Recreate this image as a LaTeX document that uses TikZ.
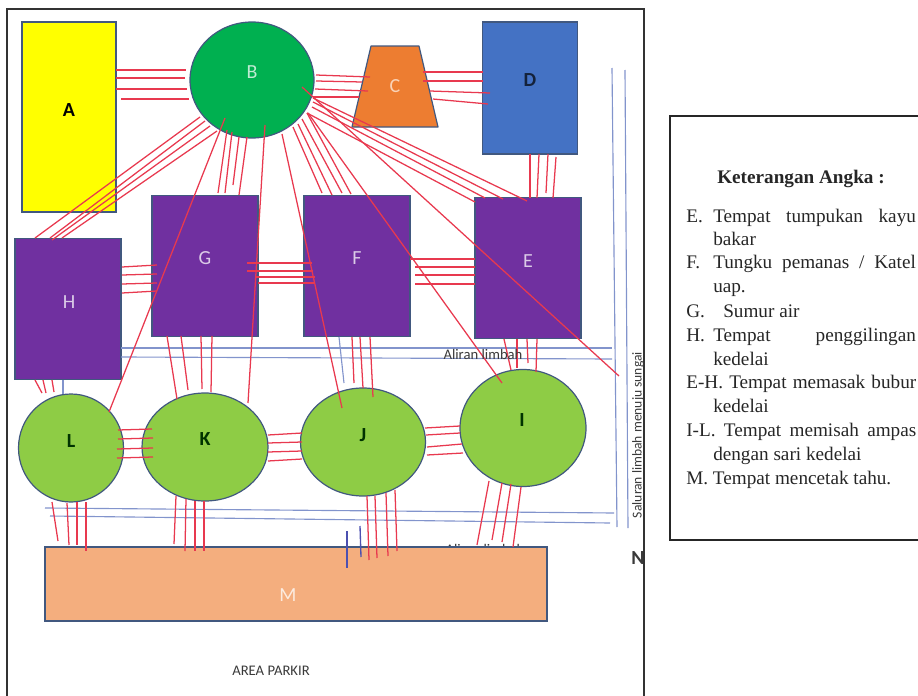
\documentclass[tikz,border=0pt]{standalone}
\usepackage{fontspec}
\setmainfont{Liberation Serif}
\newfontfamily\carlito{Carlito}
\usetikzlibrary{arrows.meta,positioning,shapes.geometric,calc}

\definecolor{outlinec}{HTML}{41587F}
\definecolor{pipec}{HTML}{E8394F}
\definecolor{drainc}{HTML}{8294CC}
\definecolor{stubc}{HTML}{4C50B0}
\definecolor{yellowc}{HTML}{FFFF00}
\definecolor{greenc}{HTML}{00B050}
\definecolor{orangec}{HTML}{ED7D31}
\definecolor{bluec}{HTML}{4472C4}
\definecolor{purplec}{HTML}{7030A0}
\definecolor{limec}{HTML}{8ECC45}
\definecolor{tanc}{HTML}{F4AE7E}
\definecolor{inkc}{HTML}{3A3A3A}

\newcommand{\pipes}[3]{\foreach \ax/\ay/\bx/\by in {#3}
  \draw[pipe] ($(#1)+(\ax,\ay)$) -- ($(#2)+(\bx,\by)$);}

\begin{document}
\begin{tikzpicture}[
    x=0.75pt, y=-0.75pt,
    box/.style={rectangle, draw=outlinec, line width=0.9pt, inner sep=0pt, outer sep=0pt},
    room/.style={box, fill=purplec, minimum width=79.5pt, minimum height=106pt},
    tub/.style={ellipse, draw=outlinec, line width=0.9pt, fill=limec, inner sep=0pt, outer sep=0pt},
    pipe/.style={draw=pipec, line width=0.95pt},
    drain/.style={draw=drainc, line width=0.85pt},
    stub/.style={draw=stubc, line width=1pt},
    tag/.style={font=\carlito\fontsize{15}{17}\selectfont, inner sep=0pt},
    lighttag/.style={tag, text=#1},
    darktag/.style={tag, font=\carlito\bfseries\fontsize{15}{17}\selectfont, text=#1},
    note/.style={font=\carlito\fontsize{11}{13}\selectfont, text=inkc, inner sep=0pt},
    legend/.style={anchor=base west, inner sep=0pt, text=black!85, font=\fontsize{14.4}{17}\selectfont}
]
\useasboundingbox (0,0) rectangle (918,696);

% halaman
\coordinate (frameBL) at (7,696);
\coordinate (frameTL) at (7,9);
\coordinate (frameTR) at (644,9);
\coordinate (frameBR) at (644,696);

\node[note, font=\carlito\bfseries\fontsize{15}{17}\selectfont] (north) at (638,558) {N};
\draw[line width=1.4pt, black!80] (frameBL) -- (frameTL) -- (frameTR) -- (frameBR);

% label yang tertutup bangunan M
\node[note] (flowB) at (485,549) {Aliran limbah};

% bangunan
\node[box, fill=yellowc, minimum width=70.5pt, minimum height=142.5pt] (A) at (69,117) {};
\node[tub, fill=greenc, minimum width=93pt, minimum height=87pt] (B) at (252,80) {};
\coordinate (C) at (395,87);
\draw[draw=outlinec, line width=0.9pt, fill=orangec, line join=round] ($(C)+(-24,-41)$) -- ($(C)+(24,-41)$) -- ($(C)+(43,40)$) -- ($(C)+(-43,40)$) -- cycle;
\node[box, fill=bluec, minimum width=71.25pt, minimum height=99pt] (D) at (530,88) {};
\node[room] (E) at (528,268) {};
\node[room] (F) at (357,266) {};
\node[room] (G) at (205,266) {};
\node[room] (H) at (68,309) {};
\node[tub, minimum width=94.5pt, minimum height=87.75pt] (I) at (523,428) {};
\node[tub, minimum width=93.75pt, minimum height=81pt] (J) at (363,442) {};
\node[tub, minimum width=94.5pt, minimum height=81pt] (K) at (205,447) {};
\node[tub, minimum width=78.75pt, minimum height=81pt] (L) at (71,448) {};
\node[box, fill=tanc, minimum width=376.5pt, minimum height=55.5pt] (M) at (296,584) {};

% saluran limbah
\coordinate (drainA1) at (612,348);
\coordinate (drainA2) at (612,359);
\coordinate (drainB0) at (45,508);
\coordinate (drainB1) at (614,513);
\coordinate (drainC0) at (50,516);
\coordinate (drainC1) at (610,523);
\coordinate (drainD0) at (612,68);
\coordinate (drainD1) at (617,527);
\coordinate (drainE0) at (625,70);
\coordinate (drainE1) at (628,528);
\coordinate (stubA0) at (347,531);
\coordinate (stubA1) at (347,568);
\coordinate (stubB0) at (360,526);
\coordinate (stubB1) at (361,557);
\draw[drain] ($(H.east)+(0,39)$) -- (drainA1);
\draw[drain] ($(H.east)+(0,48)$) -- (drainA2);
\draw[drain] (drainB0) -- (drainB1);
\draw[drain] (drainC0) -- (drainC1);
\draw[drain] (drainD0) -- (drainD1);
\draw[drain] (drainE0) -- (drainE1);
\draw[drain] ($(H)+(-5,71)$) -- ($(L)+(-8,-54)$);
\draw[drain] ($(F)+(-18,71)$) -- ($(J)+(-19,-59)$);
\draw[stub] (stubA0) -- (stubA1);
\draw[stub] (stubB0) -- (stubB1);

% pipa
\coordinate (outfall) at (619,376);
\pipes{A}{B}{47/-47/-66/-10, 47/-39/-67/-2, 47/-28/-65/9, 52/-18/-63/19}
\pipes{B}{C}{64/-5/-25/-10, 64/1/-33/-5, 63/9/-27/4, 61/17/-36/10}
\pipes{C}{D}{28/-15/-47/-16, 28/-6/-47/-7, 35/4/-40/5, 38/12/-42/16}
\pipes{D}{E}{0/66/2/-70, 9/66/9/-70, 18/66/18/-75, 26/69/25/-70}
\pipes{B}{E}{55/33/-53/-66, 60/27/-43/-70, 61/22/-25/-69, 61/18/-1/-67}
\pipes{B}{F}{41/47/-35/-73, 46/44/-25/-71, 50/39/-15/-73, 55/33/-6/-72}
\pipes{B}{G}{-25/50/13/-73, -20/52/20/-73, -13/57/28/-81, -5/57/34/-71}
\pipes{B}{H}{-52/37/-33/-71, -47/41/-18/-71, -42/46/-16/-69, -35/51/-6/-71}
\pipes{B}{I}{56/33/-21/-45}
\pipes{B}{J}{30/54/-21/-34}
\pipes{B}{K}{13/45/43/-44}
\pipes{B}{L}{-27/38/38/-36}
\draw[pipe] ($(B)+(50,7)$) -- (outfall);
\pipes{H}{G}{54/-42/-48/-1, 54/-34/-48/8, 54/-25/-48/17, 54/-16/-48/25}
\pipes{G}{F}{42/-3/-45/-3, 42/5/-44/5, 50/11/-42/11, 53/17/-42/17}
\pipes{F}{E}{53/-7/-53/-9, 58/1/-53/-1, 58/9/-53/7, 58/18/-53/16}
\pipes{H}{L}{-33/71/-29/-55, -25/71/-25/-55, -16/71/-17/-56}
\pipes{G}{K}{-38/70/-28/-48, -24/70/-17/-57, -4/70/-3/-58, 7/70/6/-55}
\pipes{F}{J}{-5/71/-9/-59, 3/71/0/-54, 13/71/10/-45}
\pipes{E}{I}{-24/71/-12/-58, -11/71/-6/-60, -1/71/5/-65, 9/71/13/-56}
\pipes{L}{K}{47/-18/-53/-18, 47/-9/-52/-9, 46/1/-52/1, 46/10/-52/10}
\pipes{K}{J}{63/-12/-61/-9, 63/-4/-61/0, 63/5/-61/9, 63/14/-61/17}
\pipes{J}{I}{62/-14/-63/-2, 63/-7/-63/5, 64/5/-61/16, 64/13/-60/25}
\pipes{L}{M}{-19/54/-238/-43, -4/55/-227/-39, 6/54/-219/-39, 15/54/-210/-33}
\pipes{K}{M}{-29/49/-122/-40, -19/52/-111/-33, -10/54/-101/-33, -1/54/-92/-33}
\pipes{J}{M}{4/54/73/-24, 12/54/81/-26, 23/51/92/-28, 32/48/101/-33}
\pipes{I}{M}{-34/53/181/-39, -21/55/196/-44, -12/56/206/-42, -2/59/217/-37}

% huruf
\node[darktag=black] (tagA) at (69,110) {A};
\node[lighttag=greenc!25!white] (tagB) at (252,72) {B};
\node[lighttag=orangec!35!white] (tagC) at (395,86) {C};
\node[darktag=bluec!30!black] (tagD) at (530,80) {D};
\node[lighttag=purplec!25!white] (tagE) at (528,261) {E};
\node[lighttag=purplec!25!white] (tagF) at (357,258) {F};
\node[lighttag=purplec!25!white] (tagG) at (205,258) {G};
\node[lighttag=purplec!25!white] (tagH) at (69,302) {H};
\node[darktag=black!80!green] (tagI) at (522,420) {I};
\node[darktag=black!80!green] (tagJ) at (363,435) {J};
\node[darktag=black!80!green] (tagK) at (205,439) {K};
\node[darktag=black!80!green] (tagL) at (71,441) {L};
\node[lighttag=tanc!25!white] (tagM) at (288,595) {M};

\node[note] (flowA) at (483,354) {Aliran limbah};
\node[note, font=\carlito\fontsize{10.2}{12}\selectfont, rotate=90] (river) at (638,435) {Saluran limbah menuju sungai};
\node[note] (parking) at (271,671) {AREA PARKIR};

% keterangan
\coordinate (legendTR) at (918,116);
\coordinate (legendTL) at (670,116);
\coordinate (legendBL) at (670,540);
\coordinate (legendBR) at (918,540);
\draw[line width=1.2pt, black!85] (legendTR) -- (legendTL) -- (legendBL) -- (legendBR);

\node[legend, font=\bfseries\fontsize{14.4}{17}\selectfont] (legTitle) at (717,183) {Keterangan Angka :};
\node[legend] (legE) at (686,222) {E.};
\node[legend] (legEa) at (713,222) {\makebox[152pt][s]{Tempat tumpukan kayu}};
\node[legend] (legEb) at (713,245) {bakar};
\node[legend] (legF) at (686,268) {F.};
\node[legend] (legFa) at (713,268) {\makebox[152pt][s]{Tungku pemanas / Katel}};
\node[legend] (legFb) at (713,292) {uap.};
\node[legend] (legG) at (686,317) {G.};
\node[legend] (legGa) at (723,317) {Sumur air};
\node[legend] (legH) at (686,341) {H.};
\node[legend] (legHa) at (713,341) {\makebox[152pt][s]{Tempat penggilingan}};
\node[legend] (legHb) at (713,365) {kedelai};
\node[legend] (legEH) at (686,388) {\makebox[172.5pt][s]{E-H. Tempat memasak bubur}};
\node[legend] (legEHb) at (713,412) {kedelai};
\node[legend] (legIL) at (686,436) {\makebox[172.5pt][s]{I-L. Tempat memisah ampas}};
\node[legend] (legILb) at (713,460) {dengan sari kedelai};
\node[legend] (legM) at (686,484) {M. Tempat mencetak tahu.};
\end{tikzpicture}
\end{document}
